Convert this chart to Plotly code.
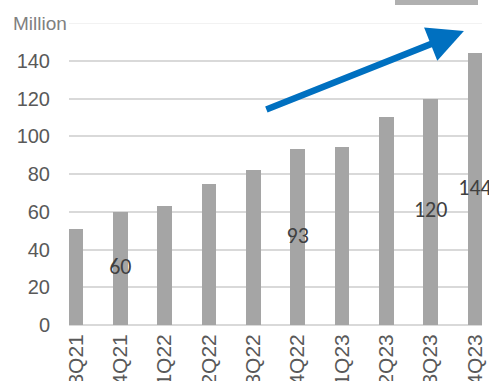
import plotly.graph_objects as go

# Quarterly volume, millions
quarters = ["3Q21", "4Q21", "1Q22", "2Q22", "3Q22", "4Q22", "1Q23", "2Q23", "3Q23", "4Q23"]
volumes = [51, 60, 63, 74.5, 82, 93, 94.5, 110, 120, 144]
# Quarters whose bar carries a value label
labelled = ["4Q21", "4Q22", "3Q23", "4Q23"]
y_ticks = [0, 20, 40, 60, 80, 100, 120, 140]

idx = list(range(len(quarters)))
lab_idx = [quarters.index(q) for q in labelled]
lab_vals = [volumes[i] for i in lab_idx]

fig = go.Figure()
fig.add_trace(go.Bar(
    x=idx, y=volumes, width=0.33,
    marker=dict(color="#a5a5a5", line=dict(width=0)),
    hoverinfo="skip",
))
# value labels sit at mid-height of their bars
fig.add_trace(go.Scatter(
    x=lab_idx, y=[v / 2 for v in lab_vals],
    text=[f"{v:g}" for v in lab_vals],
    mode="text",
    textfont=dict(family="Carlito, Lato, sans-serif", size=22, color="#404040"),
    cliponaxis=False, hoverinfo="skip",
))

fig.update_layout(
    width=489, height=381,
    margin=dict(l=69, r=7, t=23, b=56, autoexpand=False),
    paper_bgcolor="white", plot_bgcolor="white",
    showlegend=False, bargap=0,
    xaxis=dict(
        range=[-0.158, 9.158], automargin=False,
        tickmode="array", tickvals=idx, ticktext=quarters,
        tickangle=-90, showgrid=False, zeroline=False, showline=False,
        ticks="", ticklabelstandoff=4,
        tickfont=dict(family="Liberation Sans, Arial", size=21, color="#595959"),
    ),
    yaxis=dict(
        range=[0, 160], automargin=False,
        tickmode="array", tickvals=y_ticks,
        showgrid=True, gridcolor="#d9d9d9", gridwidth=1.5,
        zeroline=True, zerolinecolor="#d9d9d9", zerolinewidth=1.5,
        showline=False, ticks="", ticklabelstandoff=18,
        tickfont=dict(family="Liberation Sans, Arial", size=20, color="#595959"),
    ),
)

# faint top gridline
fig.add_shape(type="line", xref="paper", yref="y", x0=0, x1=1, y0=160, y1=160,
              line=dict(color="#eeeeee", width=1.5))

# unit caption
fig.add_annotation(text="Million", xref="paper", yref="paper", x=-0.07, y=1.0,
                   xanchor="center", yanchor="middle", showarrow=False,
                   font=dict(family="Liberation Sans, Arial", size=19, color="#808080"))

# growth arrow
fig.add_annotation(x=8.75, y=155.8, ax=4.26, ay=113.9,
                   xref="x", yref="y", axref="x", ayref="y",
                   text="", showarrow=True, arrowhead=2, arrowsize=1.1,
                   arrowwidth=6.5, arrowcolor="#0070c0", standoff=0)

# soft grey box edge peeking in at the top
fig.add_shape(type="rect", xref="paper", yref="paper",
              x0=(395 - 69) / 413, x1=(478 - 69) / 413, y0=1.06, y1=1.09,
              fillcolor="#6f6f6f", opacity=0.55, line=dict(width=0), layer="above")

fig.write_html("out.html")
